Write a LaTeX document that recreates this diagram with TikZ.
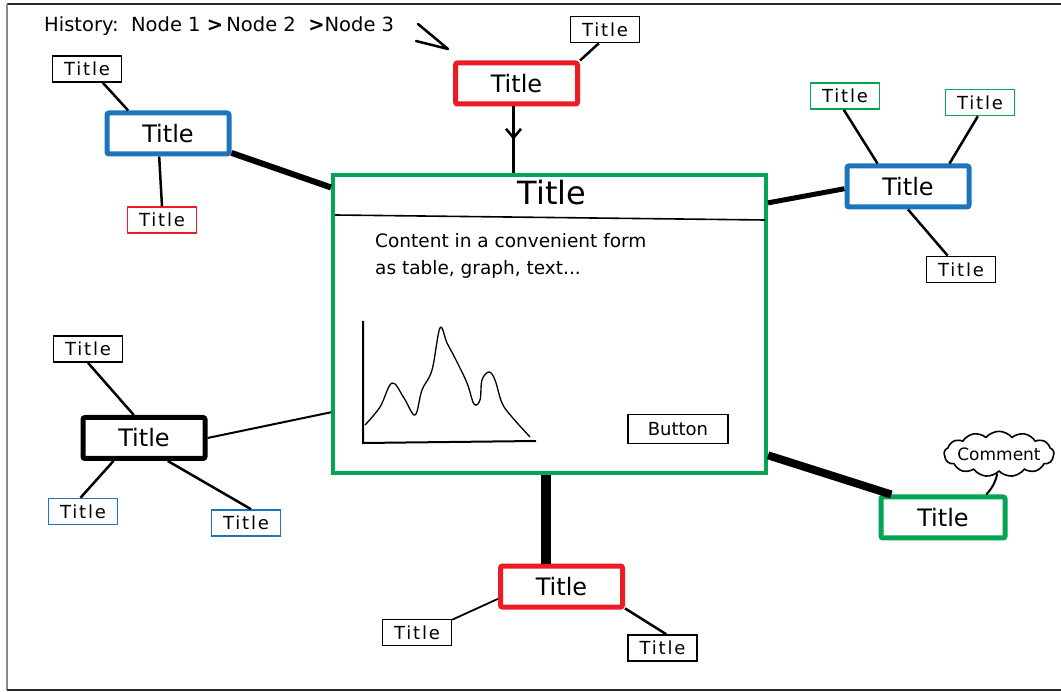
\documentclass[tikz,border=0pt]{standalone}
\usepackage{fontspec}
\setmainfont{DejaVu Sans}
\newfontfamily\leaffont[LetterSpace=10]{DejaVu Sans}
\usetikzlibrary{shapes.symbols, arrows.meta, positioning, calc, decorations.markings}
\definecolor{mapred}{RGB}{237,28,36}
\definecolor{mapblue}{RGB}{28,117,188}
\definecolor{mapgreen}{RGB}{0,166,81}

\begin{document}
\begin{tikzpicture}[
    x=1pt, y=-1pt,
    topic/.style={rectangle, rounded corners=2pt, minimum width=122pt, minimum height=41pt, inner sep=0pt, line width=5pt, draw=black, font=\fontsize{24}{28}\selectfont},
    leaf/.style={rectangle, minimum width=69pt, minimum height=26pt, inner sep=0pt, line width=1.6pt, draw=black, font=\leaffont\fontsize{18}{20}\selectfont},
    panel/.style={rectangle, minimum width=433pt, minimum height=298pt, line width=4pt, draw=mapgreen},
    note/.style={cloud, cloud puffs=13, cloud puff arc=100, aspect=3.2, inner xsep=-3pt, inner ysep=-1pt, line width=1.6pt, draw=black, font=\fontsize{17}{20}\selectfont},
    link/.style={line width=2.5pt},
    heavy/.style={line width=6pt},
    midarrow/.style={postaction={decorate}, decoration={markings, mark=at position 0.5 with {\arrow{Straight Barb[length=9pt,width=15pt,line width=2.5pt]}}}}
]
    \fill [white] (0,0) rectangle (1061,692);
    \useasboundingbox (0,0) rectangle (1061,692);
    \draw [line width=2pt, black!85] (7,4) -- (1061,4);
    \draw [line width=1.2pt, black!45] (7,4) -- (7,690);
    \draw [line width=2pt, black!85] (7,690) -- (1061,690);

    \node (history) [anchor=base west, inner sep=0pt, font=\fontsize{19.5}{22}\selectfont] at (44,32) {History:\ \ Node 1 \textbf{>}\,Node 2 \ \textbf{>}Node 3};
    \draw [link, line cap=round, line join=round] (418,24) -- (448,49) -- (416,41);

    \node (main) [panel] at (549.5,324) {};
    \node (maintitle) [font=\fontsize{32}{36}\selectfont] at (552,193) {Title};
    \draw [line width=1.6pt] (335,215) -- (765,220);
    \node (content) [anchor=base west, align=left, inner sep=0pt, font=\fontsize{18.5}{27}\selectfont] at (375,275) {Content in a convenient form\\as table, graph, text...};
    \draw [line width=2pt] (363,321) -- (363,443) -- (536,441);
    \draw [line width=1.3pt] plot [smooth, tension=0.6] coordinates {(365,425) (380,407) (392,383) (404,398) (415,415) (422,390) (432,370) (440,328) (447,343) (455,358) (467,383) (474,404) (480,400) (482,380) (489,372) (495,380) (502,403) (512,417) (530,437)};
    \node (button) [leaf, minimum width=100pt, minimum height=29pt, font=\fontsize{18}{20}\selectfont] at (678,429) {Button};

    \node (r1) [topic, draw=mapred] at (516.5,83.5) {Title};
    \node (b1) [topic, draw=mapblue] at (168,133.5) {Title};
    \node (b2) [topic, draw=mapblue] at (908,186.5) {Title};
    \node (k) [topic] at (144,438) {Title};
    \node (r2) [topic, draw=mapred] at (561.5,586.5) {Title};
    \node (g) [topic, draw=mapgreen, minimum width=124pt] at (943,517.5) {Title};

    \node (r1up) [leaf] at (605,29.5) {Title};
    \node (b1up) [leaf] at (87,69) {Title};
    \node (b1down) [leaf, draw=mapred] at (162,220) {Title};
    \node (b2left) [leaf, draw=mapgreen] at (845,96) {Title};
    \node (b2right) [leaf, draw=mapgreen] at (980,102.5) {Title};
    \node (b2down) [leaf] at (961,269.5) {Title};
    \node (kup) [leaf] at (88,349) {Title};
    \node (kleft) [leaf, draw=mapblue] at (83,511.5) {Title};
    \node (kright) [leaf, draw=mapblue] at (246,523) {Title};
    \node (r2left) [leaf] at (417,632.5) {Title};
    \node (r2right) [leaf] at (662.5,648) {Title};
    \node (comment) [note] at (999,454) {Comment};

    \draw [link, midarrow] ([xshift=-3pt]r1.south) -- ([xshift=-3pt]r1.south |- main.north);
    \draw [heavy] (b1.-17) -- (main.148);
    \draw [heavy, line width=5pt] (main.29) -- (b2.182);
    \draw [link, line width=2pt] (k.east) -- (main.202);
    \draw [heavy, line width=8pt] (main.-31) -- (g.156);
    \draw [heavy, line width=10pt] ([xshift=-16pt]r2.north) -- ([xshift=-16pt]r2.north |- main.south);

    \draw [link] (r1.north east) -- (r1up.246);
    \draw [link] (b1.150) -- (b1up.-41);
    \draw [link] (b1.249) -- (b1down.north);
    \draw [link] (b2.143) -- (b2left.265);
    \draw [link] (b2.29) -- (b2right.261);
    \draw [link] (b2.south) -- (b2down.134);
    \draw [link] (k.114) -- (kup.south);
    \draw [link] (k.217) -- (kleft.100);
    \draw [link] (k.-44) -- (kright.70);
    \draw [link, line width=1.8pt] (r2.191) -- (r2left.20);
    \draw [link] (r2.-19) -- (r2right.75);
    \draw [link, line width=2pt] (comment.-95) to [bend left=15] (g.28);
\end{tikzpicture}
\end{document}
